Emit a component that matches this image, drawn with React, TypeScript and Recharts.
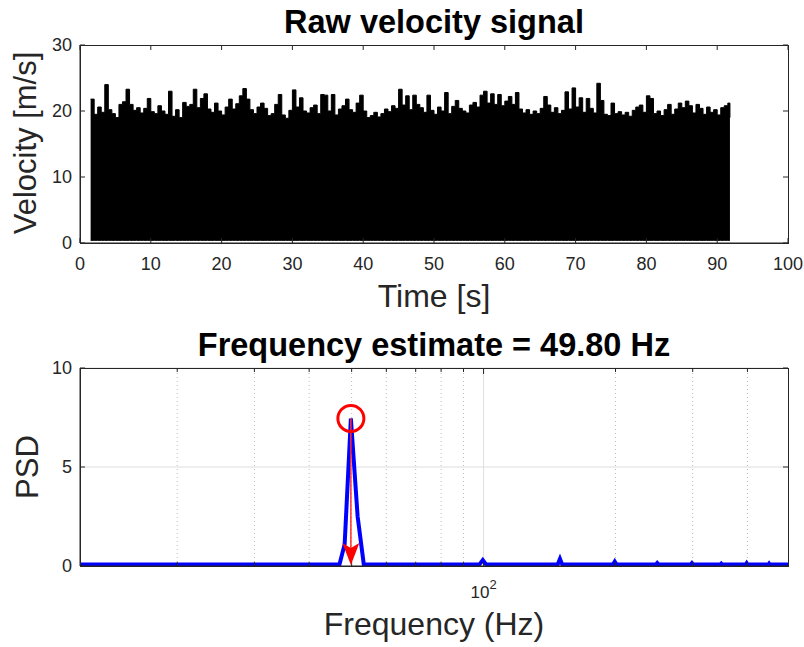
import React from "react";
import {
  ComposedChart,
  Area,
  Line,
  Scatter,
  XAxis,
  YAxis,
  Label,
  CartesianGrid,
  ReferenceLine,
} from "recharts";

// upper envelope of the raw signal, one reading every 0.5 s from t = 1.5 s
const velPeak = [
  21.8, 19.5, 20.6, 19.8, 24.0, 20.2, 19.6, 19.0, 21.0, 21.4,
  23.3, 21.0, 20.1, 20.5, 19.7, 20.4, 21.9, 19.9, 19.6, 20.8,
  20.0, 19.5, 23.0, 19.2, 20.2, 19.0, 21.3, 20.7, 21.0, 23.3,
  20.5, 21.9, 22.6, 20.3, 19.8, 21.2, 20.0, 19.4, 20.6, 21.8,
  20.3, 21.1, 22.3, 23.4, 21.8, 20.2, 19.6, 20.6, 21.2, 20.4,
  19.3, 19.6, 21.0, 22.5, 19.4, 18.9, 20.1, 23.2, 20.6, 22.0,
  20.0, 19.7, 20.5, 20.9, 19.6, 22.5, 22.4, 20.0, 22.5, 19.4,
  20.3, 20.8, 21.8, 20.2, 19.8, 21.2, 22.4, 20.0, 19.0, 19.3,
  19.8, 19.1, 19.6, 20.3, 19.9, 20.8, 20.4, 23.3, 20.9, 22.3,
  20.2, 22.4, 21.0, 20.5, 19.8, 22.4, 20.1, 19.5, 20.6, 20.0,
  22.8, 19.6, 20.7, 21.6, 20.4, 20.0, 19.7, 20.9, 21.3, 20.6,
  22.4, 23.0, 21.2, 22.6, 21.0, 22.5, 20.8, 21.5, 22.2, 21.0,
  22.8, 20.3, 19.7, 20.2, 19.5, 20.0, 19.6, 20.4, 22.2, 20.9,
  19.8, 20.5, 19.6, 20.1, 22.9, 20.3, 23.5, 20.6, 22.0, 19.8,
  21.9, 20.4, 19.7, 24.2, 21.6, 19.5, 19.3, 21.2, 19.6, 19.9,
  19.4, 19.8, 19.2, 20.1, 20.6, 20.9, 19.8, 22.3, 21.9, 19.6,
  20.0, 19.3, 20.2, 21.0, 19.5, 20.3, 21.2, 20.5, 21.5, 20.8,
  19.7, 21.0, 20.4, 19.5, 20.6, 19.8, 20.2, 19.4, 20.5, 20.8,
  21.2,
];
const VEL_START = 1.5;
const VEL_STEP = 0.5;
const velLast = { t: 91.8, v: 19.0 };
const VEL_FLOOR = 0.4;

const timeTicks = [0, 10, 20, 30, 40, 50, 60, 70, 80, 90, 100];
const timeDomain = [0, 100];
const velTicks = [0, 10, 20, 30];
const velDomain = [0, 30];

// PSD
const psdFreq = [
  12, 46.9, 48.2, 49.8, 51.6, 53.3,
  97.8, 99.6, 101.4, 147.6, 149.4, 151.2,
  197.4, 199.2, 201.0, 247.2, 249.0, 250.8,
  297.0, 298.8, 300.6, 346.8, 348.6, 350.4,
  396.6, 398.4, 400.2, 446.4, 448.2, 450.0, 495,
];
const psdVal = [
  0.07, 0.07, 1.1, 7.45, 2.5, 0.07,
  0.07, 0.3, 0.07, 0.07, 0.36, 0.07,
  0.07, 0.22, 0.07, 0.07, 0.15, 0.07,
  0.07, 0.14, 0.07, 0.07, 0.12, 0.07,
  0.07, 0.14, 0.07, 0.07, 0.12, 0.07, 0.07,
];
const peakFreq = 49.8;
const peakPsd = 7.45;
const arrowEnd = 0.05;
const freqMinor = [20, 30, 40, 50, 60, 70, 80, 90, 200, 300, 400];
const freqMajor = [100];
const freqTicks = [20, 30, 40, 50, 60, 70, 80, 90, 100, 200, 300, 400];
const freqDomain = [12, 495];
const psdTicks = [0, 5, 10];
const psdDomain = [0, 10];

const FONT = '"Liberation Sans", Arial, Helvetica, sans-serif';
const AX = "#262626";

// layout (chart coordinates)
const W = 804;
const Y_W = 80;
const M_RIGHT = 16;
const P_LEFT = Y_W;
const P_RIGHT = W - M_RIGHT;
const TOP_H = 320;
const TOP_MT = 45;
const TOP_XH = 77;
const BOT_TOP = 320;
const BOT_H = 327;
const BOT_MT = 48;
const BOT_XH = 81;

const velData = [
  ...velPeak.map((v, i) => ({ t: VEL_START + i * VEL_STEP, band: [VEL_FLOOR, v] })),
  { t: velLast.t, band: [VEL_FLOOR, velLast.v] },
];
const psdData = psdFreq.map((f, i) => ({ f, p: psdVal[i] }));
const arrowData = [
  { f: peakFreq, p: peakPsd },
  { f: peakFreq, p: arrowEnd + 0.8 },
];
const headData = [{ f: peakFreq, p: arrowEnd }];
const circleData = [{ f: peakFreq, p: peakPsd }];

const txt = (x: number, y: number, s: string, opts: any = {}) => (
  <text
    x={x}
    y={y}
    textAnchor="middle"
    fontFamily={FONT}
    fontSize={opts.size || 32}
    fill={opts.fill || AX}
    transform={opts.rot ? `rotate(-90 ${x} ${y})` : undefined}
    fontWeight={opts.bold ? "bold" : "normal"}
  >
    {s}
  </text>
);

// x tick: label plus the mirrored inward tick on the top edge of the box
const makeXTick = (plotTop: number) => (props: any) => {
  const { x, y, payload } = props;
  return (
    <g>
      <path d={`M${x},${plotTop}V${plotTop + 5}`} stroke={AX} strokeWidth={1} fill="none" />
      <text x={x} y={y} dy="0.71em" textAnchor="middle" fill={AX} fontSize={18} fontFamily={FONT}>
        {payload.value}
      </text>
    </g>
  );
};

// y tick: label plus the mirrored inward tick on the right edge
const makeYTick = () => (props: any) => {
  const { x, y, payload } = props;
  return (
    <g>
      <path d={`M${P_RIGHT - 5},${y}H${P_RIGHT}`} stroke={AX} strokeWidth={1} fill="none" />
      <text x={x} y={y} dy="0.355em" textAnchor="end" fill={AX} fontSize={18} fontFamily={FONT}>
        {payload.value}
      </text>
    </g>
  );
};

const makeFreqTick = (plotTop: number) => (props: any) => {
  const { x, y, payload } = props;
  const major = freqMajor.includes(payload.value);
  return (
    <g>
      <path d={`M${x},${plotTop}V${plotTop + (major ? 6 : 4)}`} stroke={AX} strokeWidth={1} fill="none" />
      {major && (
        <text x={x} y={y + 36} textAnchor="middle" fill={AX} fontSize={17} fontFamily={FONT}>
          10
          <tspan dy={-9} fontSize={13}>
            2
          </tspan>
        </text>
      )}
    </g>
  );
};

// notched arrow head, tip at the point
const ArrowHead = (props: any) => {
  const { cx, cy } = props;
  return (
    <polygon
      points={`${cx},${cy} ${cx - 8.5},${cy - 22} ${cx},${cy - 17} ${cx + 8.5},${cy - 22}`}
      fill="#ff0000"
    />
  );
};

const PeakCircle = (props: any) => {
  const { cx, cy } = props;
  return <circle cx={cx} cy={cy} r={13} fill="none" stroke="#ff0000" strokeWidth={3} />;
};

// axes box outline
const Box = ({ top, height }: { top: number; height: number }) => (
  <div
    style={{
      position: "absolute",
      left: P_LEFT,
      top,
      width: P_RIGHT - P_LEFT + 1,
      height: height + 1,
      boxSizing: "border-box",
      border: `1px solid ${AX}`,
      pointerEvents: "none",
    }}
  />
);

function VelocityChart() {
  return (
    <ComposedChart
      width={W}
      height={TOP_H}
      data={velData}
      margin={{ top: TOP_MT, right: M_RIGHT, bottom: 0, left: 0 }}
    >
      <XAxis
        dataKey="t"
        type="number"
        domain={timeDomain}
        ticks={timeTicks}
        interval={0}
        height={TOP_XH}
        tickSize={-5}
        tickMargin={19}
        stroke={AX}
        tick={makeXTick(TOP_MT)}
      >
        <Label content={() => txt(434, 307, "Time [s]")} />
        <Label content={() => txt(434, 33, "Raw velocity signal", { bold: true, fill: "#000", size: 32.5 })} />
      </XAxis>
      <YAxis
        type="number"
        domain={velDomain}
        ticks={velTicks}
        interval={0}
        width={Y_W}
        tickSize={-5}
        tickMargin={13}
        stroke={AX}
        tick={makeYTick()}
      >
        <Label content={() => txt(36, 143, "Velocity [m/s]", { rot: true, size: 31 })} />
      </YAxis>
      <Area
        dataKey="band"
        type="stepAfter"
        fill="#000"
        fillOpacity={1}
        stroke="#000"
        strokeWidth={1}
        dot={false}
        activeDot={false}
        isAnimationActive={false}
      />
    </ComposedChart>
  );
}

function PsdChart() {
  return (
    <ComposedChart
      width={W}
      height={BOT_H}
      data={psdData}
      margin={{ top: BOT_MT, right: M_RIGHT, bottom: 0, left: 0 }}
    >
      <CartesianGrid horizontal vertical={false} stroke="#dedede" />
      {freqMinor.map((f) => (
        <ReferenceLine key={f} x={f} stroke="#bdbdbd" strokeDasharray="1 3" />
      ))}
      {freqMajor.map((f) => (
        <ReferenceLine key={f} x={f} stroke="#dedede" />
      ))}
      <XAxis
        dataKey="f"
        type="number"
        scale="log"
        domain={freqDomain}
        allowDataOverflow
        ticks={freqTicks}
        interval={0}
        height={BOT_XH}
        tickSize={-4}
        tickMargin={0}
        stroke={AX}
        tick={makeFreqTick(BOT_MT)}
      >
        <Label content={() => txt(434, 635 - BOT_TOP, "Frequency (Hz)")} />
        <Label
          content={() =>
            txt(434, 356 - BOT_TOP, "Frequency estimate = 49.80 Hz", { bold: true, fill: "#000", size: 32.5 })
          }
        />
      </XAxis>
      <YAxis
        type="number"
        domain={psdDomain}
        ticks={psdTicks}
        interval={0}
        width={Y_W}
        tickSize={-5}
        tickMargin={13}
        stroke={AX}
        tick={makeYTick()}
      >
        <Label content={() => txt(38, 467 - BOT_TOP, "PSD", { rot: true, size: 31 })} />
      </YAxis>
      <Line
        dataKey="p"
        type="linear"
        stroke="#0000ff"
        strokeWidth={4}
        dot={false}
        activeDot={false}
        isAnimationActive={false}
      />
      <Line
        data={arrowData}
        dataKey="p"
        type="linear"
        stroke="#ff2a2a"
        strokeWidth={1.5}
        dot={false}
        activeDot={false}
        isAnimationActive={false}
      />
      <Scatter data={headData} dataKey="p" shape={ArrowHead} isAnimationActive={false} />
      <Scatter data={circleData} dataKey="p" shape={PeakCircle} isAnimationActive={false} />
    </ComposedChart>
  );
}

export default function App() {
  return (
    <div style={{ position: "absolute", left: 0, top: 0, width: W, height: 647, background: "#fff" }}>
      <div style={{ position: "absolute", left: 0, top: 0 }}>
        <VelocityChart />
      </div>
      <div style={{ position: "absolute", left: 0, top: BOT_TOP }}>
        <PsdChart />
      </div>
      <Box top={TOP_MT} height={TOP_H - TOP_XH - TOP_MT} />
      <Box top={BOT_TOP + BOT_MT} height={BOT_H - BOT_XH - BOT_MT} />
    </div>
  );
}
